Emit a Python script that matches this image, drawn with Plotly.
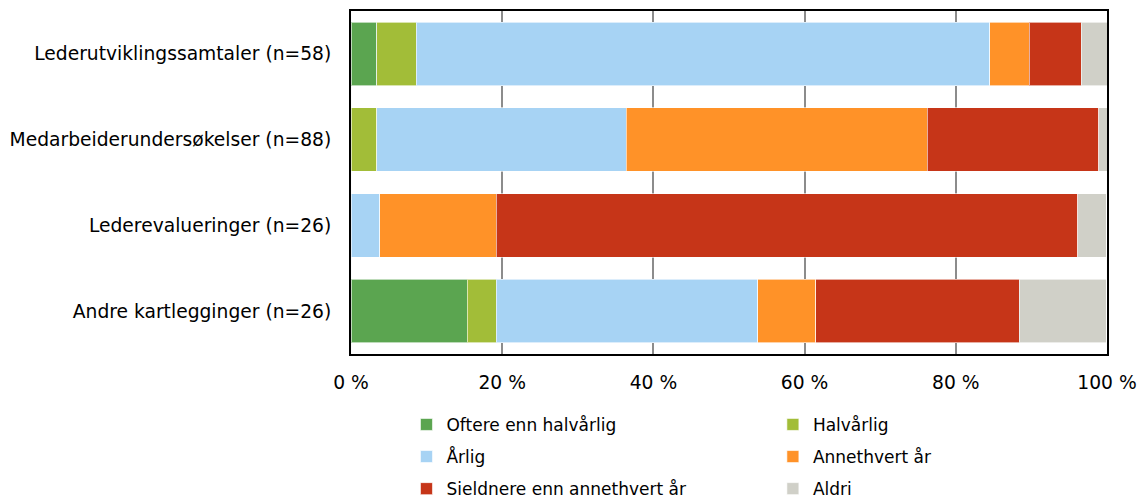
import plotly.graph_objects as go

categories = ["Lederutviklingssamtaler (n=58)", "Medarbeiderundersøkelser (n=88)",
              "Lederevalueringer (n=26)", "Andre kartlegginger (n=26)"]
series_names = ["Oftere enn halvårlig", "Halvårlig", "Årlig", "Annethvert år",
                "Sjeldnere enn annethvert år", "Aldri"]
oftere = [3.4, 0.0, 0.0, 15.4]
halvarlig = [5.2, 3.4, 0.0, 3.8]
arlig = [75.9, 33.0, 3.8, 34.6]
annethvert = [5.2, 39.8, 15.4, 7.7]
sjeldnere = [6.9, 22.7, 76.9, 26.9]
aldri = [3.4, 1.1, 3.8, 11.5]
tick_vals = [0, 20, 40, 60, 80, 100]
tick_text = ["0 %", "20 %", "40 %", "60 %", "80 %", "100 %"]

colors = ["#5BA550", "#A2BD38", "#A7D3F4", "#FF9228", "#C63518", "#D0D0C8"]
values = [oftere, halvarlig, arlig, annethvert, sjeldnere, aldri]
legends = ["legend", "legend2", "legend", "legend2", "legend", "legend2"]

fig = go.Figure()
for name, vals, col, lg in zip(series_names, values, colors, legends):
    fig.add_trace(go.Bar(
        y=categories, x=vals, name=name, orientation="h",
        marker=dict(color=col, line=dict(color="rgba(255,255,255,0.6)", width=1)),
        width=0.74, legend=lg, legendgroup=name,
    ))

tick_font = dict(family="DejaVu Sans, Verdana, sans-serif", size=18.7, color="#000")
leg_font = dict(family="DejaVu Sans, Verdana, sans-serif", size=17, color="#000")
fig.update_layout(
    barmode="stack",
    width=1145, height=495,
    margin=dict(l=351, r=38, t=11, b=141, autoexpand=False),
    plot_bgcolor="white", paper_bgcolor="white",
    font=tick_font,
    xaxis=dict(range=[0, 100], tickvals=tick_vals, ticktext=tick_text,
               showgrid=True, gridcolor="#8c8c8c", gridwidth=1.5,
               showline=True, linecolor="black", linewidth=2, mirror=True,
               zeroline=False, ticks="", ticklabelstandoff=11, fixedrange=True,
               tickfont=tick_font),
    yaxis=dict(autorange="reversed", showline=True, linecolor="black", linewidth=2,
               mirror=True, ticks="", ticklabelstandoff=14, fixedrange=True,
               tickfont=tick_font),
    legend=dict(x=0.355, y=0.178, xref="container", yref="container",
                xanchor="left", yanchor="top",
                orientation="v", tracegroupgap=7, font=leg_font, bgcolor="rgba(0,0,0,0)"),
    legend2=dict(x=0.675, y=0.178, xref="container", yref="container",
                 xanchor="left", yanchor="top",
                 orientation="v", tracegroupgap=7, font=leg_font, bgcolor="rgba(0,0,0,0)"),
)

fig.write_html("out.html")
